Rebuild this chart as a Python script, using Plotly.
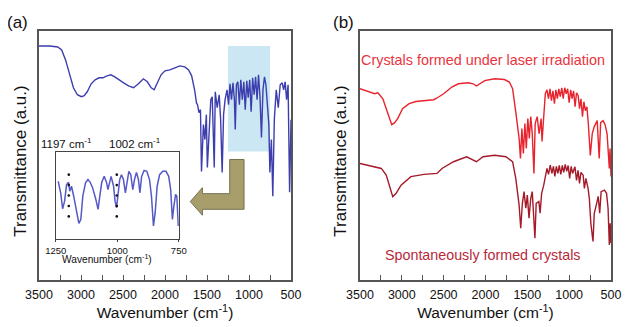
import plotly.graph_objects as go

# ---------------- data ----------------
# Panel (a): IR spectrum (wavenumber cm-1, transmittance a.u.)
wn_a = [3500, 3371, 3277, 3230, 3184, 3137, 3090, 3043, 2996, 2961, 2926, 2879, 2832, 2785,
        2738, 2691, 2645, 2598, 2551, 2492, 2434, 2375, 2316, 2258, 2211, 2164, 2129, 2094,
        2047, 2000, 1941, 1883, 1824, 1765, 1719, 1683, 1648, 1625, 1613, 1596, 1578, 1566,
        1543, 1525, 1508, 1496, 1473, 1455, 1438, 1426, 1414, 1402, 1379, 1355, 1338, 1320,
        1303, 1285, 1262, 1244, 1226, 1209, 1191, 1174, 1164, 1150, 1133, 1115, 1098, 1080,
        1062, 1045, 1027, 1010, 992, 975, 957, 939, 922, 904, 887, 869, 852, 834, 816, 799,
        781, 764, 752, 734, 717, 699, 676, 652, 629, 605, 588, 570, 553, 535, 517, 500]
t_a = [94.0, 94.0, 93.6, 92.4, 88.4, 82.4, 77.2, 74.4, 73.6, 74.0, 75.6, 78.8, 80.4, 81.2,
       81.2, 82.0, 82.4, 81.6, 80.4, 79.2, 78.0, 77.2, 78.8, 80.8, 79.6, 77.2, 76.4, 78.8,
       82.4, 84.0, 84.4, 85.2, 86.0, 85.6, 84.4, 82.0, 76.4, 71.0, 70.4, 67.2, 68.4, 43.6,
       62.4, 56.4, 66.4, 45.2, 64.4, 72.4, 73.6, 60.4, 45.2, 75.6, 69.2, 74.4, 64.4, 43.2,
       66.4, 72.4, 76.4, 70.4, 78.8, 72.4, 79.2, 72.4, 60.4, 78.4, 79.6, 70.4, 80.4, 72.4,
       79.6, 68.4, 80.0, 73.2, 80.4, 67.6, 81.2, 74.4, 81.6, 72.4, 82.4, 73.2, 57.2, 76.4,
       81.6, 78.4, 68.4, 62.4, 43.2, 56.4, 33.6, 64.4, 76.4, 69.2, 78.4, 79.2, 76.4, 79.6,
       72.4, 78.4, 35.2, 64.4]

# Inset (1250-750 cm-1 enlarged)
wn_inset = [1240, 1230, 1222, 1214, 1206, 1198, 1193, 1186, 1177, 1166, 1156, 1148, 1140,
            1129, 1119, 1110, 1100, 1087, 1078, 1071, 1063, 1053, 1043, 1038, 1031, 1025,
            1015, 1009, 1003, 997, 990, 983, 975, 967, 961, 953, 945, 937, 930, 922, 914,
            908, 901, 891, 880, 869, 861, 853, 846, 838, 828, 815, 802, 791, 783, 776, 770,
            763, 758, 752]
t_inset = [66.0, 52.9, 34.7, 43.4, 62.3, 64.9, 54.7, 60.4, 49.0, 34.0, 18.1, 22.6, 49.0,
           64.2, 68.0, 64.9, 58.5, 45.3, 34.0, 49.0, 64.9, 71.7, 64.2, 56.6, 64.2, 71.7,
           60.4, 43.4, 35.9, 49.0, 68.0, 73.6, 68.0, 52.9, 64.2, 77.4, 73.6, 56.6, 68.0,
           76.2, 68.0, 52.9, 71.7, 78.5, 77.4, 68.0, 49.0, 15.1, 30.2, 60.4, 73.6, 77.4,
           77.4, 71.7, 56.6, 22.6, 37.7, 51.0, 49.0, 15.1]

# Marked bands in the inset
band_wn = [1197, 1002]
band_labels = ["1197 cm<sup>-1</sup>", "1002 cm<sup>-1</sup>"]
dot_levels = [73.6, 61.7, 49.8, 37.9, 26.0]

# Highlighted region on panel (a)
highlight_wn = [1250, 750]
highlight_t = [51.6, 94.0]

# Panel (b): crystals formed under laser irradiation
wn_laser = [3500, 3382, 3324, 3285, 3226, 3186, 3147, 3120, 3088, 3049, 2991, 2912, 2833,
            2715, 2618, 2579, 2500, 2402, 2324, 2206, 2147, 2108, 2068, 2009, 1892, 1774,
            1715, 1676, 1638, 1598, 1582, 1565, 1547, 1529, 1512, 1494, 1476, 1459, 1441,
            1421, 1406, 1382, 1359, 1335, 1324, 1304, 1285, 1265, 1247, 1229, 1212, 1194,
            1176, 1159, 1141, 1124, 1106, 1088, 1071, 1053, 1035, 1018, 1000, 982, 965, 947,
            929, 912, 892, 876, 859, 841, 824, 806, 788, 771, 747, 724, 700, 665, 641, 624,
            594, 571, 547, 520, 512, 500]
t_laser = [76.8, 75.5, 74.8, 75.2, 72.8, 68.8, 64.8, 62.4, 63.1, 64.8, 68.8, 70.8, 71.7,
           72.1, 72.4, 73.1, 74.8, 77.5, 78.8, 79.2, 78.8, 77.9, 78.8, 80.1, 80.8, 80.5,
           79.5, 76.8, 67.5, 56.8, 48.8, 60.8, 50.8, 62.8, 52.8, 64.8, 56.8, 65.6, 58.8,
           42.8, 62.8, 65.6, 58.8, 64.8, 55.6, 64.8, 74.8, 76.4, 72.8, 76.8, 72.0, 76.0,
           70.8, 76.4, 72.8, 76.8, 73.6, 77.2, 72.8, 77.2, 74.8, 76.8, 71.2, 76.4, 72.8,
           76.0, 69.6, 75.2, 74.0, 68.8, 72.8, 65.6, 71.6, 68.0, 69.6, 62.8, 50.0, 58.8,
           61.6, 64.0, 48.8, 63.2, 64.0, 62.4, 58.8, 44.8, 52.8, 41.6]

# Panel (b): spontaneously formed crystals
wn_spont = [3500, 3402, 3304, 3245, 3186, 3127, 3108, 3068, 3009, 2892, 2735, 2579, 2520,
            2382, 2226, 2108, 2029, 1892, 1755, 1676, 1638, 1598, 1579, 1559, 1539, 1518,
            1500, 1480, 1459, 1441, 1424, 1409, 1394, 1362, 1347, 1329, 1304, 1285, 1265,
            1247, 1226, 1206, 1188, 1171, 1153, 1135, 1118, 1100, 1082, 1065, 1047, 1029,
            1012, 994, 976, 959, 931, 912, 894, 876, 859, 833, 818, 800, 774, 759, 741, 715,
            700, 676, 653, 635, 618, 578, 553, 535, 520, 510, 500]
t_spont = [46.8, 46.1, 45.5, 44.8, 42.1, 35.5, 33.5, 34.8, 38.1, 41.5, 42.4, 42.8, 44.8,
           47.5, 49.5, 47.5, 49.5, 50.1, 49.5, 47.5, 40.8, 30.1, 20.8, 30.8, 35.5, 28.8,
           34.1, 24.8, 32.8, 35.5, 26.8, 16.8, 30.8, 31.5, 26.8, 34.8, 38.1, 41.6, 44.8,
           42.4, 46.1, 42.8, 45.6, 41.6, 45.6, 42.8, 46.0, 42.4, 46.0, 43.2, 46.4, 43.6,
           46.0, 40.8, 45.6, 42.8, 45.5, 40.0, 44.0, 38.8, 43.2, 42.1, 36.8, 40.8, 36.8,
           32.8, 22.8, 15.5, 26.8, 30.1, 33.6, 26.8, 35.5, 36.1, 34.8, 28.8, 14.1, 22.8,
           14.8]

x_ticks = [3500, 3000, 2500, 2000, 1500, 1000, 500]
inset_ticks = [1250, 1000, 750]

# ---------------- layout geometry ----------------
# The page body adds an 8 px offset; the figure is sized/positioned to compensate.
OFF = 8
W, H = 633 - OFF, 327 - OFF
ML, MR, MT, MB = 39 - OFF, 13, 31 - OFF, 46
PW, PH = W - ML - MR, H - MT - MB


def px(x):  # screen x -> paper
    return (x - OFF - ML) / PW


def py(y):  # screen y -> paper
    return (H - MB - (y - OFF)) / PH


SANS = "Liberation Sans, Arial, sans-serif"

fig = go.Figure()
fig.add_trace(go.Scatter(x=wn_a, y=t_a, mode="lines", xaxis="x", yaxis="y",
                         line=dict(color="#3c3eae", width=1.4), showlegend=False))
fig.add_trace(go.Scatter(x=wn_laser, y=t_laser, mode="lines", xaxis="x2", yaxis="y2",
                         line=dict(color="#e8232d", width=1.4), showlegend=False))
fig.add_trace(go.Scatter(x=wn_spont, y=t_spont, mode="lines", xaxis="x2", yaxis="y2",
                         line=dict(color="#a51a29", width=1.4), showlegend=False))
fig.add_trace(go.Scatter(x=wn_inset, y=t_inset, mode="lines", xaxis="x3", yaxis="y3",
                         line=dict(color="#5658c8", width=1.5), showlegend=False))
dots_x = [w for w in band_wn for _ in dot_levels]
dots_y = [lv for _ in band_wn for lv in dot_levels]
fig.add_trace(go.Scatter(x=dots_x, y=dots_y, mode="markers", xaxis="x3", yaxis="y3",
                         marker=dict(color="#111111", size=2.6), showlegend=False))

frame = dict(showline=True, mirror=True, linecolor="#555555", linewidth=1.5,
             showgrid=False, zeroline=False)
xcommon = dict(range=[3500, 500], tickvals=x_ticks, ticks="inside", ticklen=5,
               tickcolor="#555555", tickwidth=1, ticklabelstandoff=2,
               minor=dict(dtick=250, tick0=500, ticks="inside", ticklen=5,
                          tickcolor="#555555"),
               tickfont=dict(family=SANS, size=12.5, color="#111111"),
               title=dict(text="Wavenumber (cm<sup>-1</sup>)", standoff=2,
                          font=dict(family=SANS, size=15.5, color="#111111")),
               **frame)
ycommon = dict(range=[0, 100], showticklabels=False, ticks="", **frame)

fig.update_layout(
    width=W, height=H, margin=dict(l=ML, r=MR, t=MT, b=MB),
    paper_bgcolor="white", plot_bgcolor="white",
    xaxis=dict(domain=[0, px(295)], anchor="y", **xcommon),
    yaxis=dict(domain=[0, 1], anchor="x", **ycommon),
    xaxis2=dict(domain=[px(365), 1], anchor="y2", **xcommon),
    yaxis2=dict(domain=[0, 1], anchor="x2", **ycommon),
    xaxis3=dict(domain=[px(56), px(181)], anchor="y3", range=[1250, 750],
                tickvals=inset_ticks, ticks="outside", ticklen=2, tickcolor="#444444",
                tickfont=dict(family=SANS, size=9.5, color="#111111"),
                showline=True, mirror=True, linecolor="#444444", linewidth=1,
                showgrid=False, zeroline=False),
    yaxis3=dict(domain=[py(240), py(152)], anchor="x3", range=[0, 100],
                showticklabels=False, ticks="", showline=True, mirror=True,
                linecolor="#444444", linewidth=1, showgrid=False, zeroline=False),
)

# highlighted region and arrow
fig.add_shape(type="rect", xref="x", yref="y", x0=highlight_wn[0], x1=highlight_wn[1],
              y0=highlight_t[0], y1=highlight_t[1], fillcolor="#cbe7f3",
              line=dict(width=0), layer="below")
arrow_pts = [(247.3, 160), (232.7, 160), (232.7, 194.3), (205, 194.3), (205, 188.3),
             (192.7, 202.3), (205, 216), (205, 210), (247.3, 210)]
path = "M " + " L ".join(f"{px(a):.4f},{py(b):.4f}" for a, b in arrow_pts) + " Z"
fig.add_shape(type="path", xref="paper", yref="paper", path=path,
              fillcolor="#a79e6c", line=dict(color="#77714f", width=1), layer="above")

ann = []
ann.append(dict(x=px(17), y=py(22), text="(a)", font=dict(family=SANS, size=17, color="#111")))
ann.append(dict(x=px(348), y=py(22), text="(b)", font=dict(family=SANS, size=17, color="#111")))
for xp in (20, 345):
    ann.append(dict(x=px(xp), y=py(162), text="Transmittance (a.u.)", textangle=-90,
                    font=dict(family=SANS, size=17, color="#111")))
ann.append(dict(x=px(67), y=py(143), text=band_labels[0],
                font=dict(family=SANS, size=11.5, color="#111")))
ann.append(dict(x=px(137), y=py(143), text=band_labels[1],
                font=dict(family=SANS, size=11.5, color="#111")))
ann.append(dict(x=px(108), y=py(260), text="Wavenumber (cm<sup>-1</sup>)",
                font=dict(family=SANS, size=10.2, color="#111")))
ann.append(dict(x=px(490), y=py(60), text="Crystals formed under laser irradiation",
                font=dict(family=SANS, size=14.4, color="#e8343c")))
ann.append(dict(x=px(490), y=py(256), text="Spontaneously formed crystals",
                font=dict(family=SANS, size=14.3, color="#b8283a")))
for a in ann:
    a.update(xref="paper", yref="paper", showarrow=False, xanchor="center", yanchor="middle")
fig.update_layout(annotations=ann)

fig.write_html("out.html")
